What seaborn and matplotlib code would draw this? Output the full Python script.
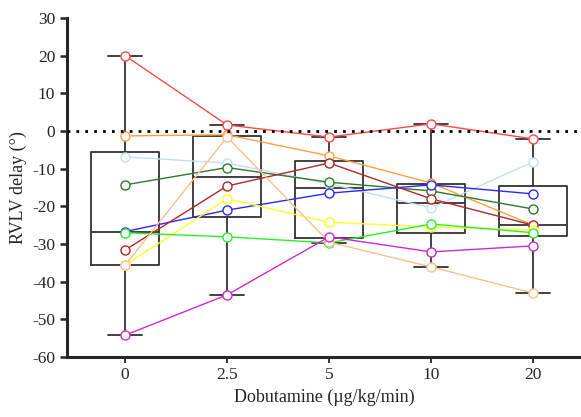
import numpy as np
import pandas as pd
import seaborn as sns
import matplotlib
matplotlib.use("Agg")
import matplotlib.pyplot as plt

# doses (categorical positions on the x axis)
doses = ["0", "2.5", "5", "10", "20"]

# RVLV delay per subject, one value per dose
red = [20.0, 1.6, -1.6, 1.9, -2.1]
orange = [-1.3, -1.0, -6.6, -13.8, -25.0]
light_blue = [-6.9, -8.5, -14.0, -20.4, -8.2]
dark_green = [-14.3, -9.7, -13.6, -15.9, -20.7]
blue = [-26.7, -21.0, -16.5, -14.3, -16.7]
dark_red = [-31.6, -14.6, -8.5, -18.0, -25.0]
yellow = [-35.6, -18.0, -24.2, -25.5, -26.3]
green = [-27.0, -28.1, -29.7, -24.7, -27.0]
peach = [-35.6, -1.6, -29.5, -36.1, -43.0]
magenta = [-54.2, -43.5, -28.1, -32.1, -30.5]

subjects = {
    "s1": (red, "#ff4848"),
    "s2": (orange, "#ffa040"),
    "s3": (light_blue, "#c6dcf6"),
    "s4": (dark_green, "#2e7a2e"),
    "s5": (blue, "#2828ff"),
    "s6": (dark_red, "#b02828"),
    "s7": (yellow, "#ffff28"),
    "s8": (green, "#28f028"),
    "s9": (peach, "#ffbe8c"),
    "s10": (magenta, "#d028d0"),
}

rows = []
for name, (vals, col) in subjects.items():
    for i, v in enumerate(vals):
        rows.append({"subject": name, "pos": i, "delay": v})
df = pd.DataFrame(rows)
palette = {name: col for name, (vals, col) in subjects.items()}

sns.set_style("ticks")
plt.rcParams["font.family"] = ["Liberation Serif", "DejaVu Serif"]
plt.rcParams["axes.unicode_minus"] = False

fig = plt.figure(figsize=(5.81, 4.17), dpi=100)
ax = fig.add_axes([0.1153, 0.1439, 0.8847, 0.8129])

# box stats: min-max whiskers, quartiles like Prism (n+1 method)
stats = []
for i in range(len(doses)):
    v = df.loc[df["pos"] == i, "delay"].to_numpy()
    q1, med, q3 = np.percentile(v, [25, 50, 75], method="weibull")
    stats.append({"med": med, "q1": q1, "q3": q3,
                  "whislo": v.min(), "whishi": v.max(), "fliers": []})
grey = "#333333"
ax.bxp(stats, positions=range(len(doses)), widths=0.67, capwidths=0.33,
       showfliers=False,
       boxprops=dict(color=grey, linewidth=1.3),
       whiskerprops=dict(color=grey, linewidth=1.3),
       capprops=dict(color=grey, linewidth=1.3),
       medianprops=dict(color=grey, linewidth=1.3))

sns.lineplot(data=df, x="pos", y="delay", hue="subject", palette=palette,
             marker="o", markersize=6.5, markerfacecolor="white",
             linewidth=1.0, legend=False, ax=ax, zorder=3)
for line in ax.lines:
    if line.get_marker() == "o":
        line.set_markeredgecolor(line.get_color())
        line.set_markeredgewidth(1.0)

ax.axhline(0, color="black", linestyle=(0, (1, 2.2)), linewidth=2, zorder=4)

ax.set_xlim(-0.57, 4.47)
ax.set_ylim(-60, 30)
ax.set_yticks(range(-60, 31, 10))
ax.set_xticks(range(len(doses)))
ax.set_xticklabels(doses)
ax.set_xlabel("Dobutamine (\u00b5g/kg/min)", fontsize=13)
ax.set_ylabel("RVLV delay (\u00b0)", fontsize=13)
ax.tick_params(axis="y", labelsize=12.5, width=1.8, length=5, direction="out")
ax.tick_params(axis="x", labelsize=12.5, width=1.3, length=4, direction="out")
sns.despine(ax=ax)
ax.spines["left"].set_linewidth(2.2)
ax.spines["bottom"].set_linewidth(2.2)

fig.savefig("out.png", dpi=100)
